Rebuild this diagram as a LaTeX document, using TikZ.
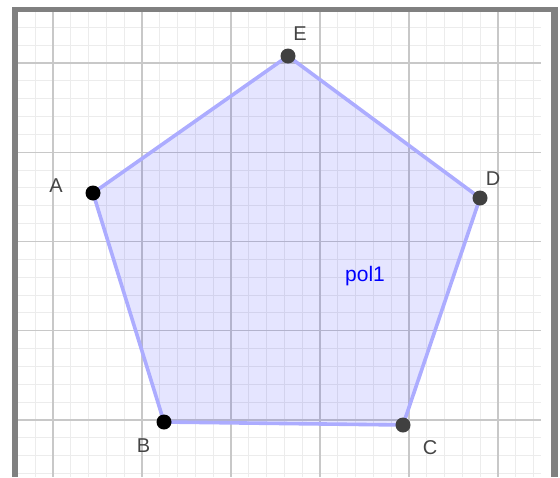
\documentclass[tikz,border=0pt]{standalone}
\usepackage{fontspec}
\setmainfont{Liberation Sans}
\usetikzlibrary{positioning, calc}

\definecolor{framegray}{RGB}{128,128,128}
\definecolor{majorgrid}{RGB}{200,200,200}
\definecolor{minorgrid}{RGB}{236,236,236}
\definecolor{polyedge}{RGB}{172,172,255}
\definecolor{darkpt}{RGB}{64,64,64}
\definecolor{labelgray}{RGB}{68,68,68}

\begin{document}
\begin{tikzpicture} [
    x=1pt, y=-1pt,
    minor/.style={draw=minorgrid, line width=1pt},
    major/.style={draw=majorgrid, line width=1.4pt},
    frame/.style={fill=framegray},
    poly/.style={draw=polyedge, fill=blue, fill opacity=0.1, draw opacity=1, line width=3.6pt, line join=round},
    pt/.style={circle, fill=black, inner sep=0pt, minimum size=15pt},
    dpt/.style={pt, fill=darkpt},
    lbl/.style={anchor=base, inner sep=0pt, text=labelgray, font=\fontsize{20}{24}\selectfont},
    polylbl/.style={lbl, text=blue, font=\fontsize{21}{25}\selectfont}
]
    \useasboundingbox (0,0) rectangle (560,477);

    % Grid
    \begin{scope}
        \clip (18,12) rectangle (541,477);
        \foreach \i in {-1,...,27}
            \path[minor] (53+17.8*\i,12) -- (53+17.8*\i,477);
        \foreach \i in {-2,...,23}
            \path[minor] (18,63+17.85*\i) -- (541,63+17.85*\i);
        \foreach \i in {0,...,5}
            \path[major] (53+89*\i,12) -- (53+89*\i,477);
        \foreach \i in {0,...,4}
            \path[major] (18,63+89.25*\i) -- (541,63+89.25*\i);
    \end{scope}

    % Frame
    \path[frame] (12,7) rectangle (558,12);
    \path[frame] (12,7) rectangle (18,477);
    \path[frame] (551,7) rectangle (558,477);

    % Vertices
    \coordinate (A) at (93,193);
    \coordinate (B) at (164,422);
    \coordinate (C) at (403,425);
    \coordinate (D) at (480,198);
    \coordinate (E) at (288,56);

    % Polygon
    \path[poly] (A) -- (B) -- (C) -- (D) -- (E) -- cycle;
    \node[polylbl] (pol1) at (365,281) {pol1};

    % Points
    \node[pt] (ptA) at (A) {};
    \node[pt] (ptB) at (B) {};
    \node[dpt] (ptC) at (C) {};
    \node[dpt] (ptD) at (D) {};
    \node[dpt] (ptE) at (E) {};

    % Labels
    \node[lbl] (labA) at (56,192) {A};
    \node[lbl] (labB) at (143.5,452) {B};
    \node[lbl] (labC) at (430,454) {C};
    \node[lbl] (labD) at (493,185) {D};
    \node[lbl] (labE) at (300,40) {E};

\end{tikzpicture}
\end{document}
